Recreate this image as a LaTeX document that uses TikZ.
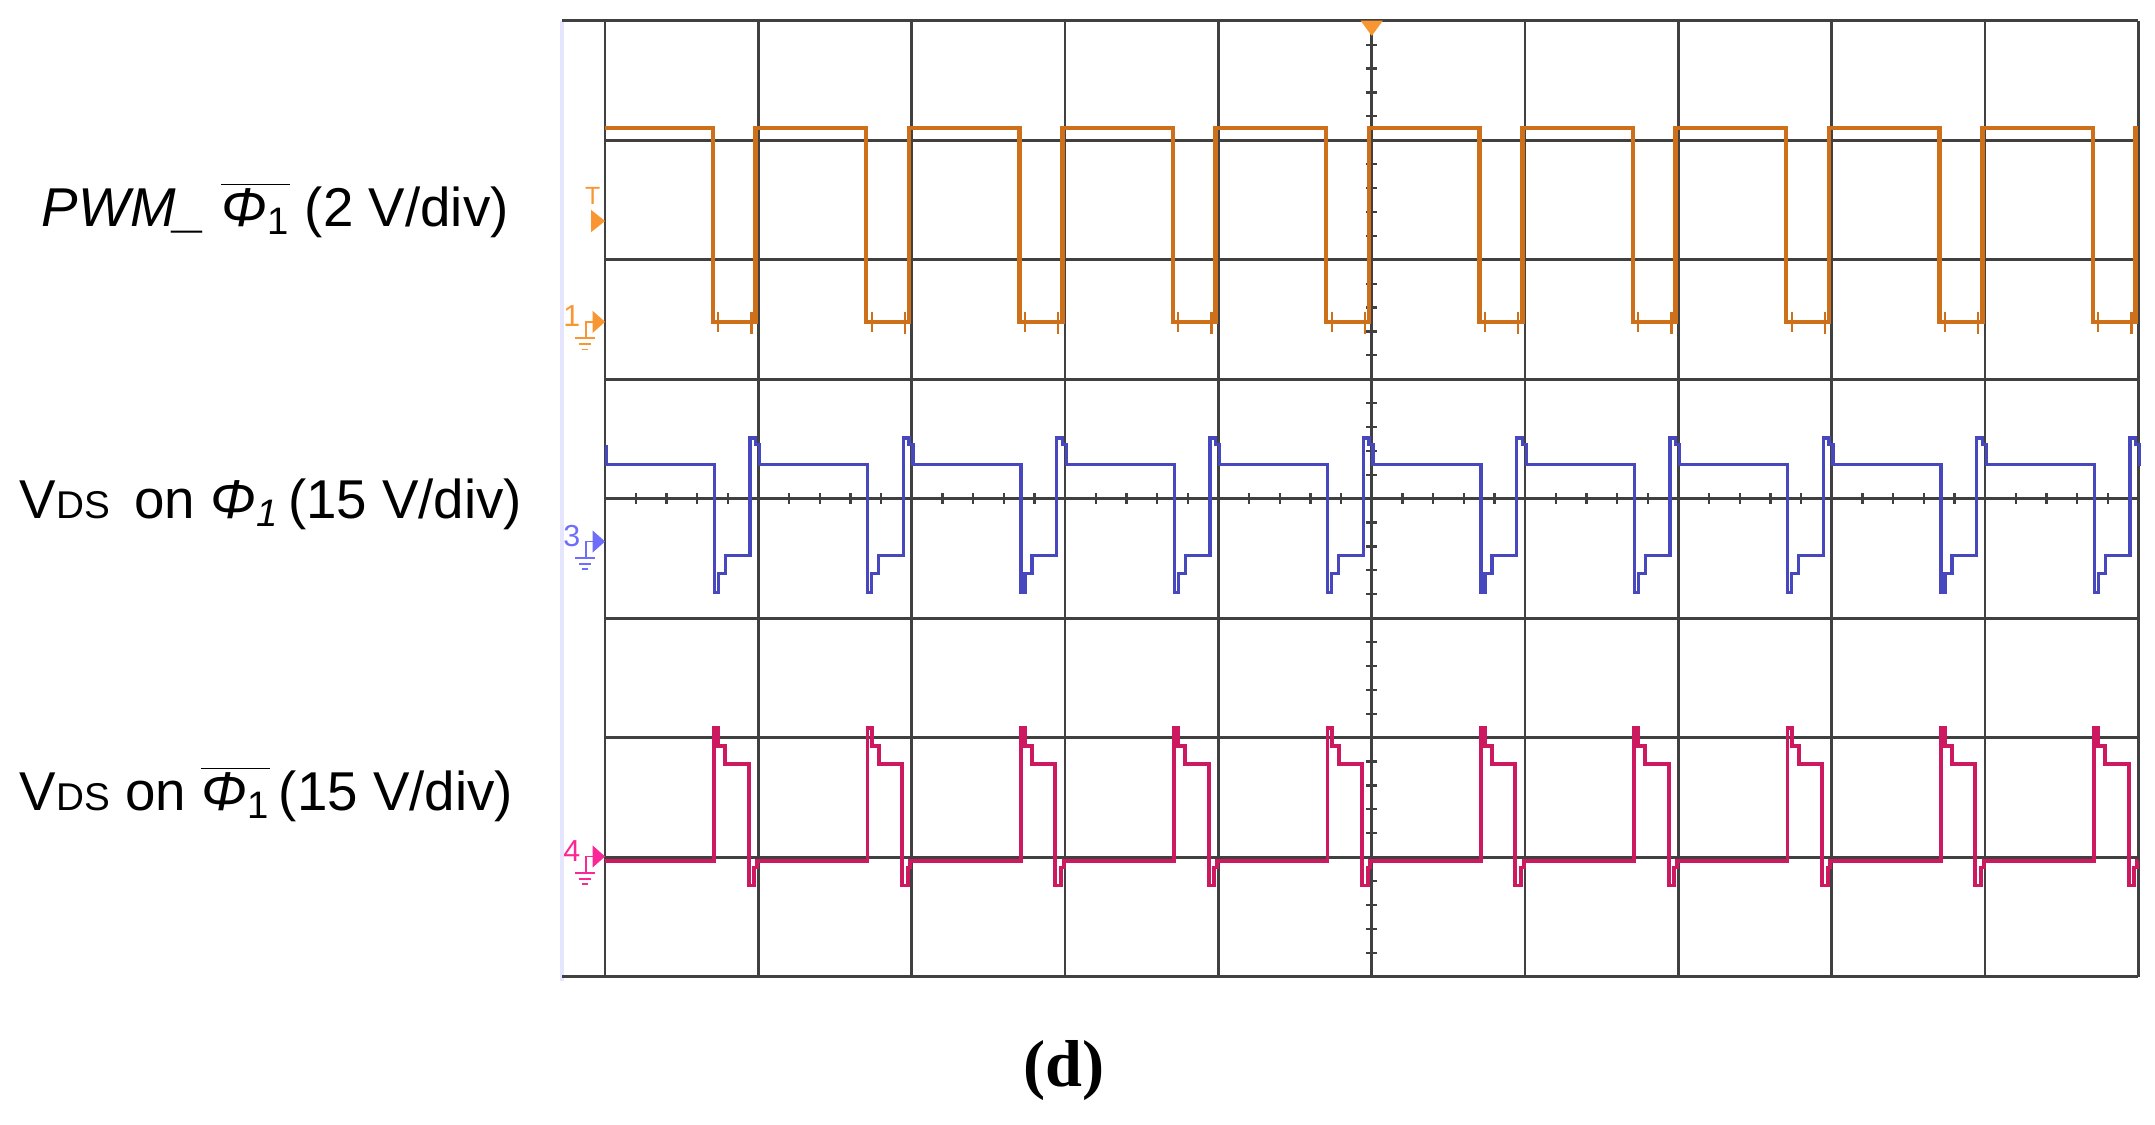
\documentclass[tikz,border=0pt]{standalone}
\usepackage{fontspec}
\setmainfont{Liberation Sans}
\newfontfamily\serifb{Liberation Serif}
\begin{document}
\begin{tikzpicture}[x=0.5pt,y=-0.5pt,
  grid/.style={draw=black!75,line width=1pt},
  orw/.style={draw=orw,line width=1.6pt},
  blw/.style={draw=blw,line width=1.2pt},
  mgw/.style={draw=mgw,line width=1.4pt},
  lab/.style={font=\fontsize{19.8}{22}\selectfont,anchor=west,inner sep=0},
  mk/.style={font=\fontsize{9}{9}\selectfont,inner sep=0}]
\definecolor{orw}{RGB}{205,112,25}
\definecolor{blw}{RGB}{72,72,190}
\definecolor{mgw}{RGB}{205,25,95}
\definecolor{orm}{RGB}{250,150,50}
\definecolor{blm}{RGB}{110,110,250}
\definecolor{mgm}{RGB}{250,40,150}
\useasboundingbox (0,0) rectangle (1560,814);
% screen border
\draw[draw=blue!10,line width=1.5pt] (407,15) -- (407,710);
% grid
\foreach \i in {0,...,10}{\draw[grid] ({438+111*\i},15) -- ({438+111*\i},707);}
\foreach \j in {0,...,8}{\draw[grid] (438,{15+86.5*\j}) -- (1548,{15+86.5*\j});}
\draw[grid] (407,15) -- (438,15);
\draw[grid] (407,707) -- (438,707);
% axis ticks
\foreach \i in {1,...,49}{\draw[black!75,line width=0.8pt] ({438+22.2*\i},357) -- ({438+22.2*\i},365);}
\foreach \j in {1,...,39}{\draw[black!75,line width=0.8pt] (989,{15+17.3*\j}) -- (997,{15+17.3*\j});}
% trigger marker
\fill[orm] (985,15) -- (1001,15) -- (993,26) -- cycle;
% orange PWM
\draw[orw] (438,92.5) foreach \k in {0,...,9}{ -- ({516+111*\k},92.5) -- ({516+111*\k},233) -- ({547+111*\k},233) -- ({547+111*\k},92.5)} -- (1548,92.5);
\foreach \k in {0,...,9}{
  \draw[orw,line width=0.8pt] ({520+111*\k},226) -- ({520+111*\k},240);
  \draw[orw,line width=0.8pt] ({544+111*\k},226) -- ({544+111*\k},242);
}
% blue VDS phi1
\draw[blw] (438,336) foreach \k in {0,...,9}{ -- ({517+111*\k},336) -- ({517+111*\k},429) -- ({520+111*\k},429) -- ({520+111*\k},415) -- ({525+111*\k},415) -- ({525+111*\k},402) -- ({543+111*\k},402) -- ({543+111*\k},317) -- ({547+111*\k},317) -- ({547+111*\k},322) -- ({550+111*\k},322) -- ({550+111*\k},336)} -- (1548,336);
\draw[blw] (439,322) -- (439,336);
% magenta VDS phi1bar
\draw[mgw] (438,623) foreach \k in {0,...,9}{ -- ({517+111*\k},623) -- ({517+111*\k},527) -- ({520+111*\k},527) -- ({520+111*\k},540) -- ({525+111*\k},540) -- ({525+111*\k},553) -- ({542+111*\k},553) -- ({542+111*\k},641) -- ({546+111*\k},641) -- ({546+111*\k},628) -- ({548+111*\k},628) -- ({548+111*\k},623)} -- (1548,623);
% channel markers
\node[mk,text=orm] (mT) at (429,142) {T};
\fill[orm] (428,152) -- (438,160) -- (428,168) -- cycle;
\foreach \y/\n/\c in {233/1/orm,392/3/blm,620/4/mgm}{
  \node[mk,text=\c,font=\fontsize{11}{11}\selectfont] (m\n) at (414,\y-4) {\n};
  \fill[\c] (429,\y-8) -- (438,\y) -- (429,\y+8) -- cycle;
  \draw[\c,line width=0.7pt] (430,\y) -- (424,\y) -- (424,\y+12) (416,\y+12) -- (431,\y+12) (419,\y+16) -- (428,\y+16) (421,\y+20) -- (426,\y+20);
}
% labels
\node[lab] (l1) at (30,152) {\textit{PWM\_} $\overline{\hbox{\textit{Φ}\textsubscript{1}}}$ (2 V/div)};
\node[lab] (l2) at (14,365) {V{\fontsize{14}{14}\selectfont DS}\, on \textit{Φ\textsubscript{1}}\,(15 V/div)};
\node[lab] (l3) at (14,575) {V{\fontsize{14}{14}\selectfont DS} on $\overline{\hbox{\textit{Φ}\textsubscript{1}}}$\,(15 V/div)};
\node[inner sep=0,font=\serifb\bfseries\fontsize{24}{26}\selectfont] (d) at (770,775) {(d)};
\end{tikzpicture}
\end{document}
